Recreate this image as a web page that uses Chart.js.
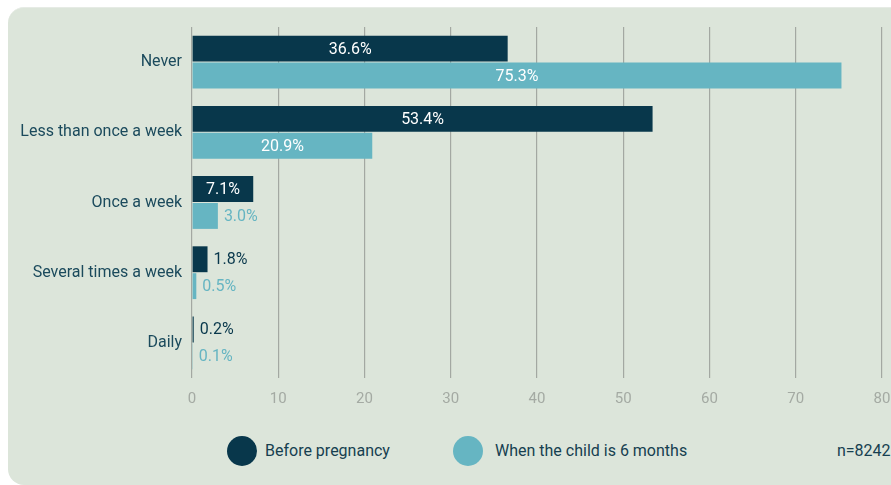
<!DOCTYPE html>
<html>
<head>
<meta charset="utf-8">
<script src="https://cdn.jsdelivr.net/npm/chart.js@4.4.1/dist/chart.umd.min.js"></script>
<style>
  html, body { margin: 0; padding: 0; background: #fff; overflow: hidden; }
  body { width: 891px; height: 485px; position: relative; font-family: Roboto, sans-serif; }
  .card {
    position: absolute; left: 8px; top: 7px; width: 910px; height: 477px;
    background: #dce5da; border-radius: 16px; border-top: 1px solid #e6ebe5;
  }
  #wrap { position: absolute; left: 0; top: 0; width: 891px; height: 420px; }
  .legend { position: absolute; top: 436px; left: 0; width: 891px; height: 30px; font-size: 16px; color: #163f50; }
  .dot { position: absolute; top: 0; width: 30px; height: 30px; border-radius: 50%; }
  .lbl { position: absolute; top: 0; line-height: 30px; white-space: nowrap; }
</style>
</head>
<body>
<div class="card"></div>
<div id="wrap"><canvas id="chart"></canvas></div>
<div class="legend">
  <div class="dot" style="left:227px;background:#08374b"></div>
  <div class="lbl" style="left:265px" id="leg0"></div>
  <div class="dot" style="left:453px;background:#66b5c2"></div>
  <div class="lbl" style="left:495px" id="leg1"></div>
  <div class="lbl" style="left:837px" id="note"></div>
</div>
<script>
const categories = ['Never', 'Less than once a week', 'Once a week', 'Several times a week', 'Daily'];
const seriesNames = ['Before pregnancy', 'When the child is 6 months'];
const beforePregnancy = [36.6, 53.4, 7.1, 1.8, 0.2];
const sixMonths = [75.3, 20.9, 3.0, 0.5, 0.1];
const xTicks = [0, 10, 20, 30, 40, 50, 60, 70, 80];
const sampleNote = 'n=8242';

const DARK = '#08374b';
const LIGHT = '#66b5c2';

document.getElementById('leg0').textContent = seriesNames[0];
document.getElementById('leg1').textContent = seriesNames[1];
document.getElementById('note').textContent = sampleNote;

// value labels: inside (white) when they fit, otherwise just past the bar end
const valueLabels = {
  id: 'valueLabels',
  afterDatasetsDraw(chart) {
    const ctx = chart.ctx;
    ctx.save();
    ctx.font = '16px Roboto, sans-serif';
    ctx.textBaseline = 'middle';
    chart.data.datasets.forEach((ds, di) => {
      const meta = chart.getDatasetMeta(di);
      meta.data.forEach((bar, i) => {
        const txt = ds.data[i].toFixed(1) + '%';
        const w = ctx.measureText(txt).width;
        const len = bar.x - bar.base;
        if (len > w + 12) {
          ctx.fillStyle = '#ffffff';
          ctx.textAlign = 'center';
          ctx.fillText(txt, bar.base + len / 2, bar.y + 1);
        } else {
          ctx.fillStyle = ds.backgroundColor;
          ctx.textAlign = 'left';
          ctx.fillText(txt, bar.x + 6, bar.y + 1);
        }
      });
    });
    ctx.restore();
  }
};

new Chart(document.getElementById('chart'), {
  type: 'bar',
  data: {
    labels: categories,
    datasets: [
      { label: seriesNames[0], data: beforePregnancy, backgroundColor: DARK },
      { label: seriesNames[1], data: sixMonths, backgroundColor: LIGHT }
    ]
  },
  options: {
    indexAxis: 'y',
    responsive: true,
    maintainAspectRatio: false,
    animation: false,
    categoryPercentage: 0.766,
    barPercentage: 0.963,
    layout: { padding: { top: 27, right: 9, left: 0, bottom: 0 } },
    plugins: { legend: { display: false }, tooltip: { enabled: false } },
    scales: {
      x: {
        min: 0, max: 80,
        afterBuildTicks: s => { s.ticks = xTicks.map(v => ({ value: v })); },
        afterFit: s => { s.height = 42; s.paddingLeft = 0; s.paddingRight = 0; },
        grid: { color: '#a3a8a2', lineWidth: 1.2, drawTicks: false },
        border: { display: false },
        ticks: { color: '#a4aaa3', font: { family: 'Roboto', size: 15 }, padding: 12 }
      },
      y: {
        afterFit: s => { s.width = 192; },
        grid: { display: false, drawTicks: false },
        border: { display: false },
        ticks: { color: '#1b4a5c', font: { family: 'Roboto', size: 16 }, padding: 10 }
      }
    }
  },
  plugins: [valueLabels]
});
</script>
</body>
</html>
